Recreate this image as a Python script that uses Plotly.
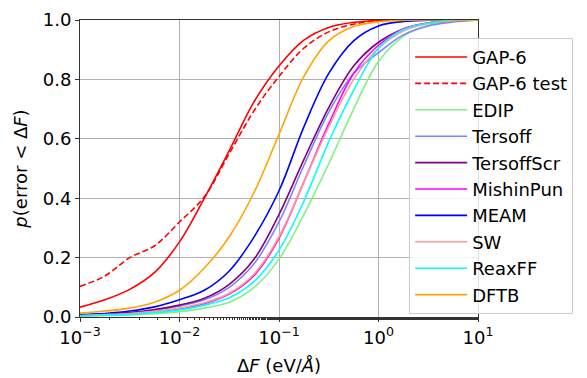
import plotly.graph_objects as go

# log10 of force error threshold (eV/Å) at which each CDF is sampled
log_df = [-3, -2.75, -2.5, -2.25, -2, -1.75, -1.5, -1.25, -1, -0.75, -0.5, -0.25, 0, 0.25, 0.5, 0.75, 1]
delta_f = [10 ** v for v in log_df]

# cumulative probability p(error < ΔF) per potential
gap6 = [0.033, 0.058, 0.093, 0.150, 0.253, 0.400, 0.560, 0.725, 0.845, 0.932, 0.975, 0.992, 0.998, 1.0, 1.0, 1.0, 1.0]
gap6_test = [0.103, 0.138, 0.200, 0.240, 0.320, 0.405, 0.550, 0.695, 0.810, 0.905, 0.960, 0.986, 0.997, 1.0, 1.0, 1.0, 1.0]
edip = [0.003, 0.005, 0.007, 0.011, 0.018, 0.030, 0.050, 0.100, 0.195, 0.345, 0.516, 0.700, 0.860, 0.945, 0.982, 0.995, 0.999]
tersoff = [0.007, 0.010, 0.014, 0.023, 0.037, 0.058, 0.100, 0.180, 0.320, 0.510, 0.690, 0.820, 0.890, 0.950, 0.980, 0.993, 1.0]
tersoff_scr = [0.007, 0.010, 0.015, 0.025, 0.040, 0.063, 0.110, 0.195, 0.345, 0.530, 0.705, 0.845, 0.925, 0.970, 0.990, 0.998, 1.0]
mishin_pun = [0.005, 0.007, 0.011, 0.018, 0.028, 0.045, 0.077, 0.140, 0.265, 0.455, 0.650, 0.820, 0.915, 0.970, 0.990, 0.997, 1.0]
meam = [0.008, 0.012, 0.020, 0.034, 0.058, 0.090, 0.155, 0.270, 0.425, 0.640, 0.820, 0.930, 0.980, 0.995, 0.999, 1.0, 1.0]
sw = [0.005, 0.008, 0.012, 0.019, 0.030, 0.048, 0.080, 0.145, 0.270, 0.455, 0.640, 0.800, 0.905, 0.963, 0.988, 0.997, 1.0]
reaxff = [0.004, 0.006, 0.009, 0.015, 0.024, 0.040, 0.065, 0.120, 0.225, 0.390, 0.590, 0.763, 0.905, 0.968, 0.990, 0.998, 1.0]
dftb = [0.013, 0.020, 0.030, 0.050, 0.090, 0.165, 0.270, 0.420, 0.615, 0.810, 0.930, 0.978, 0.994, 0.999, 1.0, 1.0, 1.0]

series = [
    ("GAP-6", gap6, "#ff0000", "solid"),
    ("GAP-6 test", gap6_test, "#ff0000", "6px,3px"),
    ("EDIP", edip, "#80f080", "solid"),
    ("Tersoff", tersoff, "#8080ff", "solid"),
    ("TersoffScr", tersoff_scr, "#800080", "solid"),
    ("MishinPun", mishin_pun, "#ff00ff", "solid"),
    ("MEAM", meam, "#0000ff", "solid"),
    ("SW", sw, "#ff9999", "solid"),
    ("ReaxFF", reaxff, "#00ffff", "solid"),
    ("DFTB", dftb, "#ffa500", "solid"),
]

x_tickvals = [1e-3, 1e-2, 1e-1, 1e0, 1e1]
x_ticktext = ["10<sup>−3</sup>", "10<sup>−2</sup>", "10<sup>−1</sup>", "10<sup>0</sup>", "10<sup>1</sup>"]
y_tickvals = [0.0, 0.2, 0.4, 0.6, 0.8, 1.0]

font = "DejaVu Sans"
fig = go.Figure()
for name, vals, color, dash in series:
    fig.add_trace(go.Scatter(
        x=delta_f, y=vals, name=name, mode="lines",
        line=dict(color=color, width=1.6, dash=dash, shape="spline", smoothing=1.0),
    ))

fig.update_layout(
    width=587, height=378,
    margin=dict(l=80, r=109, t=20, b=61, autoexpand=False),
    paper_bgcolor="white", plot_bgcolor="white",
    font=dict(family=font, size=18, color="black"),
    showlegend=True,
    legend=dict(
        x=0.827, y=0.94, xanchor="left", yanchor="top",
        bgcolor="rgba(255,255,255,0.85)", bordercolor="#cccccc", borderwidth=1,
        font=dict(family=font, size=18), itemwidth=52,
    ),
)
fig.update_xaxes(
    type="log", range=[-3, 1],
    tickvals=x_tickvals, ticktext=x_ticktext,
    ticks="outside", ticklen=4, tickcolor="#333",
    showgrid=True, gridcolor="#b0b0b0", gridwidth=1,
    showline=True, linecolor="#333", linewidth=1, mirror=True,
    minor=dict(ticks="outside", ticklen=2, tickcolor="#333", showgrid=False),
    title=dict(text="Δ<i>F</i> (eV/<i>Å</i>)", font=dict(size=18), standoff=12),
    zeroline=False,
)
fig.update_yaxes(
    range=[0, 1], tickvals=y_tickvals, tickformat=".1f",
    ticks="outside", ticklen=4, tickcolor="#333",
    showgrid=True, gridcolor="#b0b0b0", gridwidth=1,
    showline=True, linecolor="#333", linewidth=1, mirror=True,
    title=dict(text="<i>p</i>(error < Δ<i>F</i>)", font=dict(size=18), standoff=10),
    zeroline=False,
)

fig.write_html("out.html")
